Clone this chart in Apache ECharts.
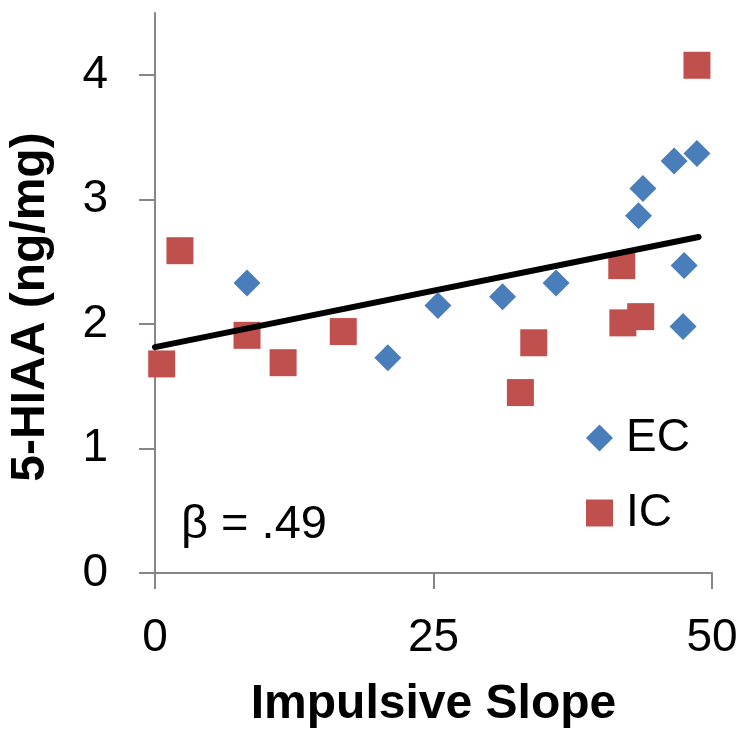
<!DOCTYPE html>
<html>
<head>
<meta charset="utf-8">
<script src="https://cdn.jsdelivr.net/npm/echarts@6/dist/echarts.min.js"></script>
<style>html,body{margin:0;padding:0;background:#fff;}#c{width:743px;height:730px;}</style>
</head>
<body>
<div id="c"></div>
<script>
const ecX = [8.26, 20.9, 25.4, 31.2, 36.0, 43.4, 43.8, 46.6, 48.65, 47.5, 47.4];
const ecY = [2.33, 1.73, 2.15, 2.22, 2.33, 2.87, 3.09, 3.31, 3.37, 2.47, 1.98];
const icX = [0.6, 2.24, 8.26, 11.5, 16.9, 32.8, 34.0, 41.9, 42.0, 43.6, 48.65];
const icY = [1.68, 2.59, 1.91, 1.69, 1.94, 1.45, 1.85, 2.47, 2.01, 2.06, 4.08];
const trendX = [0, 48.8];
const trendY = [1.815, 2.70];
const yTicks = [0, 1, 2, 3, 4];
const xTicks = [0, 25, 50];
const betaText = 'β = .49';

const FONT = 'Liberation Sans, Arial, sans-serif';
const zip = (a, b) => a.map((v, i) => [v, b[i]]);
const axisGray = '#868686';

const chart = echarts.init(document.getElementById('c'));
chart.setOption({
  animation: false,
  backgroundColor: '#fff',
  grid: { left: 155, right: 31, top: 13, bottom: 157, containLabel: false, outerBoundsMode: 'none' },
  xAxis: {
    type: 'value', min: 0, max: 50, interval: 25,
    name: 'Impulsive Slope', nameLocation: 'middle', nameGap: 108,
    nameTextStyle: { fontFamily: FONT, fontSize: 48, fontWeight: 'bold', color: '#000' },
    axisLine: { show: true, onZero: false, lineStyle: { color: axisGray, width: 2 } },
    axisTick: { show: true, length: 16, inside: false, customValues: xTicks, lineStyle: { color: axisGray, width: 2 } },
    axisLabel: { fontFamily: FONT, fontSize: 46, color: '#000', margin: 42, customValues: xTicks },
    splitLine: { show: false }
  },
  yAxis: {
    type: 'value', min: 0, max: 4.5, interval: 1,
    name: '5-HIAA (ng/mg)', nameLocation: 'middle', nameGap: 100, nameRotate: 90,
    nameTextStyle: { fontFamily: FONT, fontSize: 48, fontWeight: 'bold', color: '#000', padding: [0, 28, 0, 0] },
    axisLine: { show: true, onZero: false, lineStyle: { color: axisGray, width: 2 } },
    axisTick: { show: true, length: 16, inside: false, customValues: yTicks, lineStyle: { color: axisGray, width: 2 } },
    axisLabel: { fontFamily: FONT, fontSize: 46, color: '#000', margin: 47, customValues: yTicks },
    splitLine: { show: false }
  },
  legend: {
    orient: 'vertical', left: 581, top: 410, itemWidth: 27, itemHeight: 27, itemGap: 29,
    data: [{ name: 'EC', icon: 'diamond' }, { name: 'IC', icon: 'rect' }],
    textStyle: { fontFamily: FONT, fontSize: 46, color: '#000', padding: [0, 0, 0, 8] },
    selectedMode: false
  },
  graphic: [{
    type: 'text', left: 181, top: 502,
    style: { text: betaText, fontFamily: FONT, fontSize: 47, fill: '#000' }
  }],
  series: [
    {
      name: 'trend', type: 'line', data: zip(trendX, trendY), symbol: 'none', z: 3,
      lineStyle: { color: '#000', width: 6, cap: 'round' }, silent: true
    },
    {
      name: 'EC', type: 'scatter', symbol: 'diamond', symbolSize: 27, z: 4,
      itemStyle: { color: '#4a7ebb', opacity: 1 }, data: zip(ecX, ecY)
    },
    {
      name: 'IC', type: 'scatter', symbol: 'rect', symbolSize: 27, z: 2,
      itemStyle: { color: '#c0504d', opacity: 1 }, data: zip(icX, icY)
    }
  ]
});
</script>
</body>
</html>
